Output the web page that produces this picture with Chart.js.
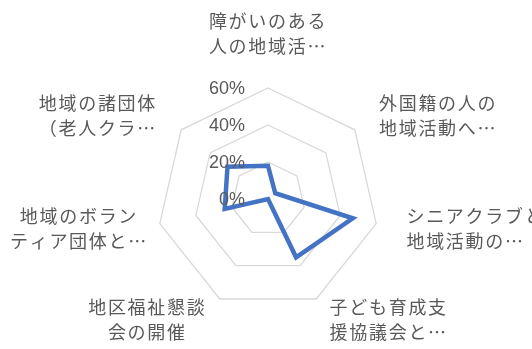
<!DOCTYPE html>
<html>
<head>
<meta charset="utf-8">
<script src="https://cdn.jsdelivr.net/npm/chart.js@4/dist/chart.umd.min.js"></script>
<style>
html,body{margin:0;padding:0;background:#fff;}
canvas{display:block;}
</style>
</head>
<body>
<canvas id="c" width="532" height="349"></canvas>
<script>
// ---- data ----
const categories = [
  ['障がいのある', '人の地域活…'],
  ['外国籍の人の', '地域活動へ…'],
  ['シニアクラブと', '地域活動の…'],
  ['子ども育成支', '援協議会と…'],
  ['地区福祉懇談', '会の開催'],
  ['地域のボラン', 'ティア団体と…'],
  ['地域の諸団体', '（老人クラ…']
];
const seriesValues = [18, 5, 47, 35, 0, 24, 28];
const tickValues = [0, 20, 40, 60];
const tickLabels = ['0%', '20%', '40%', '60%'];

const TEXT_COLOR = '#595959';
const CJK_FONT = '18px "Noto Sans CJK JP", "Noto Sans CJK SC", sans-serif';
const TICK_FONT = '18px "Liberation Sans", Arial, sans-serif';

const excelLabels = {
  id: 'excelLabels',
  afterDatasetsDraw(chart) {
    const scale = chart.scales.r;
    const ctx = chart.ctx;
    ctx.save();
    // tick labels, right-aligned left of the vertical axis
    ctx.font = TICK_FONT;
    ctx.fillStyle = TEXT_COLOR;
    ctx.textAlign = 'right';
    ctx.textBaseline = 'middle';
    tickValues.forEach((v, k) => {
      const d = scale.getDistanceFromCenterForValue(v);
      ctx.fillText(tickLabels[k], scale.xCenter - 23, scale.yCenter - d + 1);
    });
    // category labels
    ctx.font = CJK_FONT;
    try { ctx.letterSpacing = '1.7px'; } catch (e) {}
    const lineH = 25;
    categories.forEach((lines, i) => {
      const p = scale.getPointPosition(i, scale.drawingArea + 31);
      const dx = p.x - scale.xCenter, dy = p.y - scale.yCenter;
      const dist = Math.hypot(dx, dy);
      const s = dx / dist, c = -dy / dist;
      const widths = lines.map(t => ctx.measureText(t).width);
      const W = Math.max(...widths);
      const H = lineH * lines.length;
      let left, top, align;
      if (Math.abs(s) < 0.05) {
        left = p.x - W / 2;
        top = c > 0 ? p.y - H + 2 : p.y;
        align = 'center';
      } else {
        left = s > 0 ? p.x : p.x - W;
        top = p.y + 8 * c - H / 2;
        align = s > 0 ? 'left' : 'center';
      }
      if (left < 10) left = 10;
      ctx.textBaseline = 'middle';
      lines.forEach((t, k) => {
        const y = top + lineH * (k + 0.5);
        if (align === 'left') {
          ctx.textAlign = 'left';
          ctx.fillText(t, left, y);
        } else {
          ctx.textAlign = 'center';
          ctx.fillText(t, left + W / 2, y);
        }
      });
    });
    ctx.restore();
  }
};

new Chart(document.getElementById('c'), {
  type: 'radar',
  data: {
    labels: categories,
    datasets: [{
      data: seriesValues,
      borderColor: '#4472C4',
      borderWidth: 4.5,
      borderJoinStyle: 'miter',
      fill: false,
      pointRadius: 0,
      pointHoverRadius: 0,
      tension: 0
    }]
  },
  options: {
    responsive: false,
    animation: false,
    events: [],
    layout: { padding: { left: 157, right: 153, top: 88, bottom: 39 } },
    plugins: { legend: { display: false }, tooltip: { enabled: false } },
    scales: {
      r: {
        min: 0,
        max: 60,
        ticks: { stepSize: 20, display: false },
        grid: { color: '#D9D9D9', lineWidth: 1.3 },
        angleLines: { display: false },
        pointLabels: { display: false }
      }
    }
  },
  plugins: [excelLabels]
});
</script>
</body>
</html>
